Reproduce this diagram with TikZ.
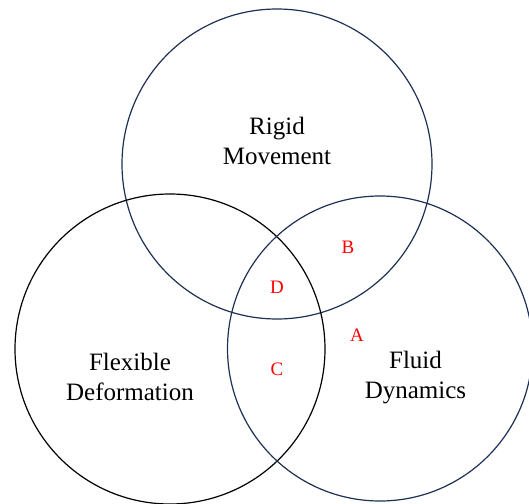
\documentclass[tikz,border=0pt]{standalone}
\usepackage{fontspec}
\setmainfont{Liberation Serif}
\definecolor{navy}{RGB}{31,48,84}
\begin{document}
\begin{tikzpicture}[x=1pt,y=-1pt,
  ring/.style={line width=1.2pt},
  lbl/.style={align=center,inner sep=0pt,font=\fontsize{25}{30.5}\selectfont},
  tag/.style={inner sep=0pt,text=red,font=\fontsize{19}{22}\selectfont}]
\useasboundingbox (0,0) rectangle (529,503);
\draw[ring,navy] (277,164) circle (155);
\draw[ring,black] (170,349) circle (155);
\draw[ring,navy] (380,348.5) circle (152.5);
\node[lbl] (rigid) at (277,141) {Rigid\\Movement};
\node[lbl] (flex) at (130,377) {Flexible\\Deformation};
\node[lbl] (fluid) at (415.5,377.5) {Fluid\\Dynamics};
\node[tag] (b) at (348,247) {B};
\node[tag] (d) at (277,287) {D};
\node[tag] (a) at (357,335) {A};
\node[tag] (c) at (277,369) {C};
\end{tikzpicture}
\end{document}
